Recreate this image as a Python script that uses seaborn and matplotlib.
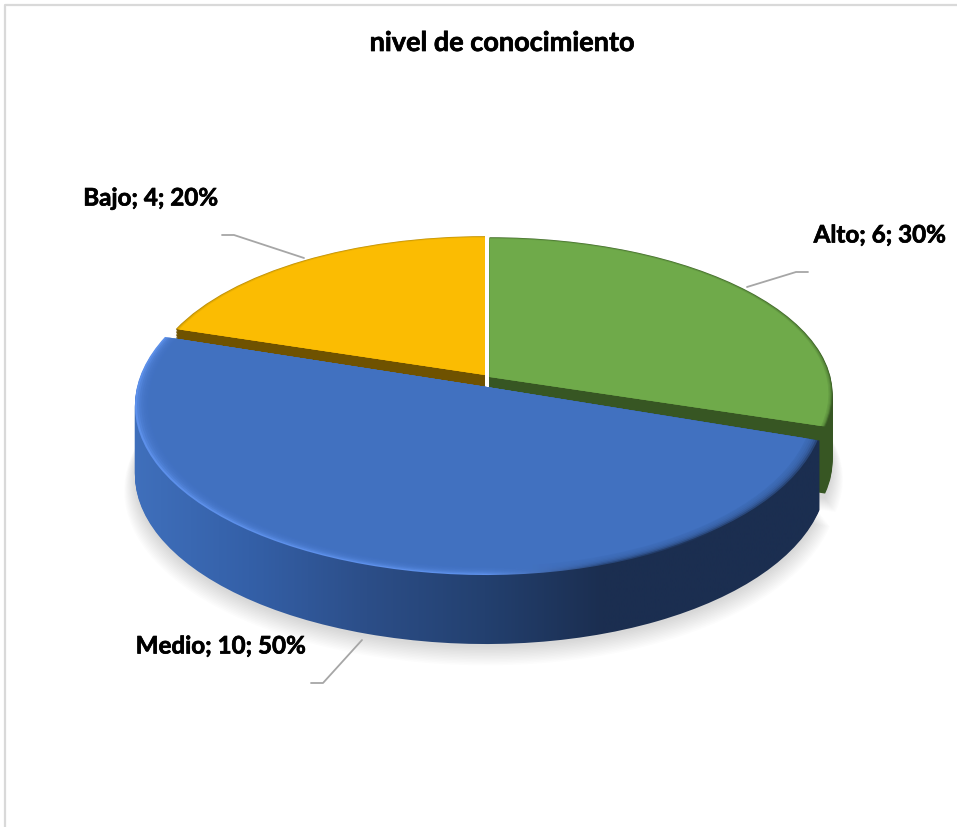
import numpy as np
import matplotlib
matplotlib.use('Agg')
import matplotlib.pyplot as plt
import matplotlib.patheffects as pe
from matplotlib.transforms import Transform
import seaborn as sns

# Data
categories = ['Alto', 'Medio', 'Bajo']
counts = [6, 10, 4]
percents = [30, 50, 20]
chart_title = 'nivel de conocimiento'

# Slice colours
top_colors = ['#6FAA4A', '#4171C0', '#FBBC02']
side_colors = ['#375623', '#1B2E50', '#6F5200']
rim_colors = ['#41682A', None, '#B98C08']

# Where each slice sits on the tilted disc: x0, y0, A left, A right, B (pixels)
geom = [(489.5, 377, 341, 341, 155), (487, 387, 350, 338, 167.5), (485, 375, 336, 336, 154)]
TILT = 0.109
DEPTH = 70

sns.set_theme(style='white')
plt.rcParams['font.family'] = ['Lato', 'DejaVu Sans']


class Tilt(Transform):
    # projects the flat unit pie onto the tilted disc
    input_dims = 2
    output_dims = 2
    is_separable = False

    def __init__(self, x0, y0, a_l, a_r, b, dy=0):
        super().__init__()
        self.p = (x0, y0 + dy, a_l, a_r, b)

    def transform_non_affine(self, values):
        x0, y0, a_l, a_r, b = self.p
        values = np.asarray(values)
        w = 1 + TILT * values[:, 1]
        a = np.where(values[:, 0] > 0, a_r, a_l)
        return np.column_stack([x0 + a * values[:, 0] / w, y0 - b * values[:, 1] / w])


fig = plt.figure(figsize=(9.57, 8.27), dpi=100)
ax = fig.add_axes([0, 0, 1, 1])


def layer(which, colors, radius=1.0, dy=0, alpha=None, z=1):
    wedges, _ = ax.pie(counts, startangle=90, counterclock=False, radius=radius,
                       colors=[c if c else 'none' for c in colors],
                       wedgeprops=dict(linewidth=0, alpha=alpha))
    out = {}
    for i, w in enumerate(wedges):
        w.set_transform(Tilt(*geom[i], dy=dy) + ax.transData)
        w.set_zorder(z)
        w.set_visible(i in which)
        out[i] = w
    return out


def gradient(wedge, cmap, z):
    im = ax.imshow(np.linspace(0, 1, 256).reshape(1, -1), cmap=cmap, extent=(130, 840, 700, 200),
                   aspect='auto', zorder=z)
    wedge.set_visible(False)
    im.set_clip_path(wedge)


# soft shadow under the disc
for k in range(13):
    layer([0, 1, 2], ['#000000'] * 3, radius=1.0 + 0.0025 * k, dy=DEPTH + 2 + k, alpha=0.013, z=1)

# dark walls of green and yellow, then their top faces
for d in np.arange(1, DEPTH - 2, 1.5):
    layer([0], side_colors, dy=d, z=2)
for d in np.arange(1, 15, 1.5):
    layer([2], side_colors, dy=d, z=2)
layer([0, 2], rim_colors, z=3)
for r in [0.997, 0.994, 0.991]:
    layer([0, 2], top_colors, radius=r, alpha=0.45, z=3)
layer([0, 2], top_colors, radius=0.988, z=3)

# blue wall with its left to right shading
wall = sns.blend_palette(['#4070BC', '#3460A8', '#2C4E88', '#23406F', '#1B2E50', '#1B2E50', '#1B2E50'], as_cmap=True)
for d in np.arange(1, DEPTH, 1.0):
    gradient(layer([1], top_colors, dy=d, z=4)[1], wall, 4)

# blue bevel, light on the left and dark on the right
rim = sns.blend_palette(['#5D90EA', '#5D90EA', '#5D90EA', '#5D90EA', '#2A4A80', '#1B2E50', '#1B2E50'], as_cmap=True)
gradient(layer([1], top_colors, z=5)[1], rim, 5)
for r in [0.994, 0.988, 0.982, 0.976, 0.970, 0.964]:
    layer([1], top_colors, radius=r, alpha=0.38, z=6)
layer([1], top_colors, radius=0.96, z=6)

# leader lines
ax.plot([222, 234, 304], [235, 235, 258], color='#A6A6A6', lw=1.3, zorder=7)
ax.plot([747, 796, 808], [287, 272, 272], color='#A6A6A6', lw=1.3, zorder=7)
ax.plot([362, 323, 311], [640, 683, 683], color='#A6A6A6', lw=1.3, zorder=7)

# labels
heavy = [pe.withStroke(linewidth=0.5, foreground='black')]
label_pos = [(879.5, 235), (220.5, 646), (150.5, 198)]
for cat, n, pct, (x, y) in zip(categories, counts, percents, label_pos):
    ax.text(x, y, f'{cat}; {n}; {pct}%', fontsize=17.4, fontweight='bold', color='black',
            ha='center', va='center', zorder=8, path_effects=heavy)
ax.text(502, 43, chart_title, fontsize=19.5, fontweight='bold', color='black', ha='center', va='center',
        path_effects=heavy)

# chart frame, only top and left show in the crop
ax.plot([4.5, 4.5, 957], [827, 5, 5], color='#D9D9D9', lw=1.6, zorder=0)

ax.set_aspect('auto')
ax.set_xlim(0, 957)
ax.set_ylim(827, 0)
ax.axis('off')
fig.savefig('out.png', dpi=100, facecolor='white')
